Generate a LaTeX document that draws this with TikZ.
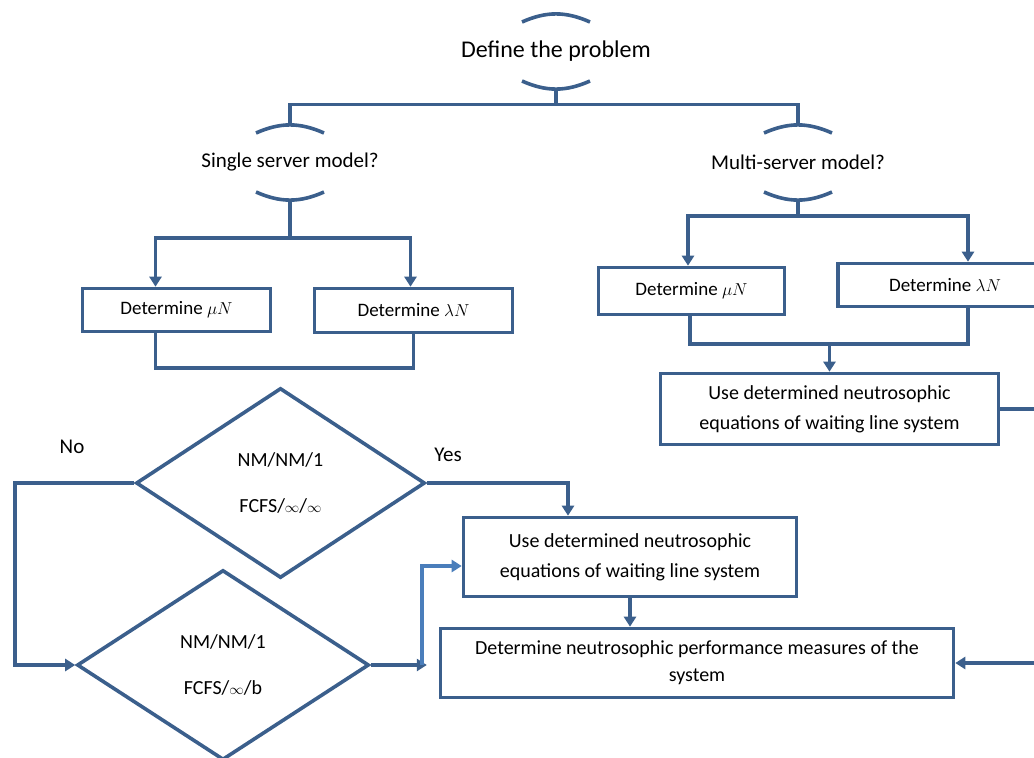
\documentclass[tikz,border=0pt]{standalone}
\usepackage{fontspec}
\setmainfont{Carlito}
\usetikzlibrary{arrows.meta,shapes.geometric,positioning}
\definecolor{flowblue}{RGB}{59,95,140}
\definecolor{flowlight}{RGB}{74,126,187}

\begin{document}
\begin{tikzpicture}[x=1pt, y=-1pt,
      line/.style={draw=flowblue, line width=3.6pt},
      arr/.style={line, -{Triangle[width=12pt,length=10pt]}},
      box/.style={draw=flowblue, line width=3.6pt, align=center, inner sep=0pt, font=\fontsize{20}{30}\selectfont},
      detbox/.style={box, font=\fontsize{19}{24}\selectfont},
      dia/.style={diamond, draw=flowblue, line width=3.6pt, align=center, inner sep=0pt, font=\fontsize{20}{24}\selectfont},
      quest/.style={inner sep=0pt, font=\fontsize{21}{25}\selectfont},
      lbl/.style={inner sep=0pt, font=\fontsize{21}{25}\selectfont}
    ]
      \clip (0,0) rectangle (1034,758);

      % Questions with their caps
      \node[quest, font=\fontsize{24}{28}\selectfont] (def) at (556,51) {Define the problem};
      \node[quest] (sq) at (290,162) {Single server model?};
      \node[quest] (mq) at (798,162) {Multi-server model?};
      \foreach \q in {def,sq,mq} {
        \draw[line] ([shift={(-34,-29)}]\q.center) to[bend left=24] ([shift={(34,-29)}]\q.center);
        \draw[line] ([shift={(-34,30)}]\q.center) to[bend right=24] ([shift={(34,30)}]\q.center);
        \coordinate (\q-t) at ([shift={(0,-36.5)}]\q.center);
        \coordinate (\q-b) at ([shift={(0,37.5)}]\q.center);
      }

      % Rates
      \node[detbox, minimum width=188pt, minimum height=43pt] (ld1) at (176.5,310) {Determine $\mu N$};
      \node[detbox, minimum width=198pt, minimum height=44pt] (ld2) at (413.5,310.5) {Determine $\lambda N$};
      \node[detbox, minimum width=186pt, minimum height=47pt] (rd1) at (691.5,291) {Determine $\mu N$};
      \node[detbox, minimum width=214pt, minimum height=43pt] (rd2) at (945,285) {Determine $\lambda N$};

      % Equations and measures
      \node[box, minimum width=338pt, minimum height=71pt] (use1) at (829.5,409) {Use determined neutrosophic\\equations of waiting line system};
      \node[box, minimum width=333pt, minimum height=79pt] (use2) at (630,557) {Use determined neutrosophic\\equations of waiting line system};
      \node[box, minimum width=513pt, minimum height=69pt, font=\fontsize{20}{27}\selectfont] (perf) at (697,663) {Determine neutrosophic performance measures of the\\system};

      % Decisions
      \node[dia, minimum width=289pt, minimum height=190pt] (d1) at (280.5,483) {NM/NM/1\\[22pt]FCFS/$\scriptstyle\infty$/$\scriptstyle\infty$};
      \node[dia, minimum width=292pt, minimum height=190pt] (d2) at (223,665) {NM/NM/1\\[22pt]FCFS/$\scriptstyle\infty$/b};
      \node[lbl] (no) at (72,447) {No};
      \node[lbl] (yes) at (448,455) {Yes};

      % Connectors
      \draw[line] (def-b) -- ++(0,16) coordinate (j0);
      \draw[line] (sq-t) |- (j0) -| (mq-t);
      \draw[line] (sq-b) -- ++(0,38.5) coordinate (js);
      \draw[arr] (js) -| ([xshift=-21pt]ld1.north);
      \draw[arr] (js) -| ([xshift=-3pt]ld2.north);
      \coordinate (jl) at (284,368);
      \draw[line] ([xshift=-21pt]ld1.south) |- (jl) -| (ld2.south);

      \draw[line] (mq-b) -- ++(0,16.5) coordinate (jm);
      \draw[arr] (jm) -| ([xshift=-3.5pt]rd1.north);
      \draw[arr] (jm) -| ([xshift=23pt]rd2.north);
      \coordinate (jr) at (829.5,344);
      \draw[line] ([xshift=-1.5pt]rd1.south) |- (jr) -| ([xshift=23pt]rd2.south);
      \draw[arr] (jr) -- (use1.north);
      \draw[arr] (use1.east) -- ++(45,0) |- (perf.east);

      \coordinate (jn) at (15,575);
      \draw[arr] (d1.west) -| (jn) |- (d2.west);
      \draw[arr] (d1.east) -| ([xshift=-62pt]use2.north);
      \draw[arr] (d2.east) -- ++(56,0) coordinate (jy);
      \draw[arr, draw=flowlight] ([xshift=-5pt]jy) |- ([yshift=-9pt]use2.west);
      \draw[arr] (use2.south) -- (use2.south |- perf.north);
    \end{tikzpicture}
\end{document}
